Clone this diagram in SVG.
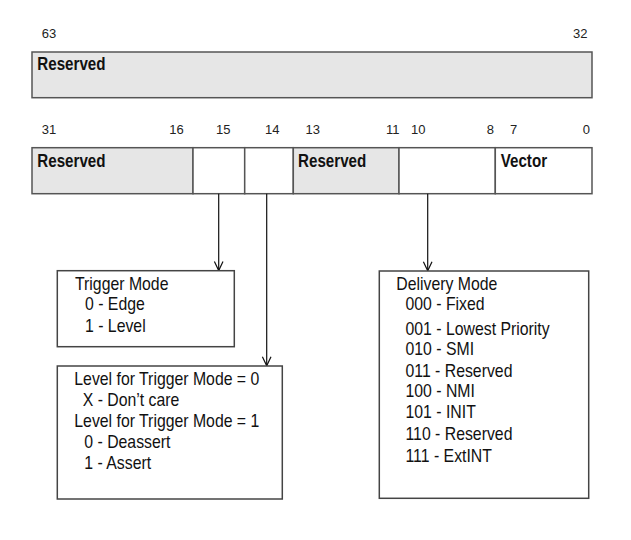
<svg xmlns="http://www.w3.org/2000/svg" width="631" height="540" viewBox="0 0 631 540">
<defs>
<style>
.num{font-family:"Liberation Sans",Arial,sans-serif;font-size:13px;fill:#222}
.hd{font-family:"Liberation Sans",Arial,sans-serif;font-size:18.5px;font-weight:bold;fill:#111}
.tx{font-family:"Liberation Sans",Arial,sans-serif;font-size:18.5px;fill:#111}
.cell{stroke:#555;stroke-width:1.5}
.gray{fill:#e6e6e6}
.white{fill:#fff}
.box{fill:#fff;stroke:#444;stroke-width:1.5}
.conn{stroke:#111;stroke-width:1.2;fill:none}
</style>
<marker id="arr" markerUnits="userSpaceOnUse" markerWidth="12" markerHeight="12" refX="10" refY="5" orient="auto" viewBox="0 0 12 10">
<path d="M1,0.7 L10,5 L1,9.3" fill="none" stroke="#111" stroke-width="1.2"/>
</marker>
</defs>
<rect width="631" height="540" fill="#fff"/>

<g id="bits-high">
<text class="num" x="41.7" y="38.3">63</text>
<text class="num" x="587.5" y="38.3" text-anchor="end">32</text>
<rect class="cell gray" x="32" y="52" width="560" height="45.7"/>
<text class="hd" transform="translate(37.3,70) scale(0.82,1)">Reserved</text>
</g>

<g id="bits-low-labels">
<text class="num" x="41.7" y="134.3">31</text>
<text class="num" x="169.3" y="134.3">16</text>
<text class="num" x="216" y="134.3">15</text>
<text class="num" x="265" y="134.3">14</text>
<text class="num" x="305.5" y="134.3">13</text>
<text class="num" x="386" y="134.3">11</text>
<text class="num" x="411" y="134.3">10</text>
<text class="num" x="486.7" y="134.3">8</text>
<text class="num" x="510" y="134.3">7</text>
<text class="num" x="582.7" y="134.3">0</text>
</g>

<g id="field-reserved-31-16">
<rect class="cell gray" x="32" y="147.7" width="161" height="46"/>
<text class="hd" transform="translate(37.3,167.3) scale(0.82,1)">Reserved</text>
</g>
<g id="field-trigger-mode">
<rect class="cell white" x="193" y="147.7" width="51.7" height="46"/>
</g>
<g id="field-level">
<rect class="cell white" x="244.7" y="147.7" width="48.6" height="46"/>
</g>
<g id="field-reserved-13-11">
<rect class="cell gray" x="293.3" y="147.7" width="105.7" height="46"/>
<text class="hd" transform="translate(298,167.3) scale(0.82,1)">Reserved</text>
</g>
<g id="field-delivery-mode">
<rect class="cell white" x="399" y="147.7" width="96.3" height="46"/>
</g>
<g id="field-vector">
<rect class="cell white" x="495.3" y="147.7" width="96.7" height="46"/>
<text class="hd" transform="translate(500.7,167.3) scale(0.82,1)">Vector</text>
</g>

<g id="connectors">
<line class="conn" x1="218.7" y1="193.7" x2="218.7" y2="270.5" marker-end="url(#arr)"/>
<line class="conn" x1="266.7" y1="193.7" x2="266.7" y2="365.8" marker-end="url(#arr)"/>
<line class="conn" x1="427.7" y1="193.7" x2="427.7" y2="270.8" marker-end="url(#arr)"/>
</g>

<g id="trigger-mode-box">
<rect class="box" x="57.3" y="270.7" width="177" height="76"/>
<text class="tx" transform="translate(75,290) scale(0.855,1)">Trigger Mode</text>
<text class="tx" transform="translate(85,310) scale(0.855,1)">0 - Edge</text>
<text class="tx" transform="translate(85,331.7) scale(0.855,1)">1 - Level</text>
</g>

<g id="level-box">
<rect class="box" x="57.3" y="366" width="225" height="133"/>
<text class="tx" transform="translate(74.3,385) scale(0.855,1)">Level for Trigger Mode = 0</text>
<text class="tx" transform="translate(82.7,406) scale(0.855,1)">X - Don’t care</text>
<text class="tx" transform="translate(74.3,426.7) scale(0.855,1)">Level for Trigger Mode = 1</text>
<text class="tx" transform="translate(84.3,448.3) scale(0.855,1)">0 - Deassert</text>
<text class="tx" transform="translate(84.3,469.3) scale(0.855,1)">1 - Assert</text>
</g>

<g id="delivery-mode-box">
<rect class="box" x="379.3" y="271" width="209.4" height="227.3"/>
<text class="tx" transform="translate(396.3,290) scale(0.855,1)">Delivery Mode</text>
<text class="tx" transform="translate(405.5,310) scale(0.855,1)">000 - Fixed</text>
<text class="tx" transform="translate(405.5,335) scale(0.855,1)">001 - Lowest Priority</text>
<text class="tx" transform="translate(405.5,355) scale(0.855,1)">010 - SMI</text>
<text class="tx" transform="translate(405.5,376.7) scale(0.855,1)">011 - Reserved</text>
<text class="tx" transform="translate(405.5,396.7) scale(0.855,1)">100 - NMI</text>
<text class="tx" transform="translate(405.5,418.3) scale(0.855,1)">101 - INIT</text>
<text class="tx" transform="translate(405.5,440) scale(0.855,1)">110 - Reserved</text>
<text class="tx" transform="translate(405.5,461.7) scale(0.855,1)">111 - ExtINT</text>
</g>
</svg>
